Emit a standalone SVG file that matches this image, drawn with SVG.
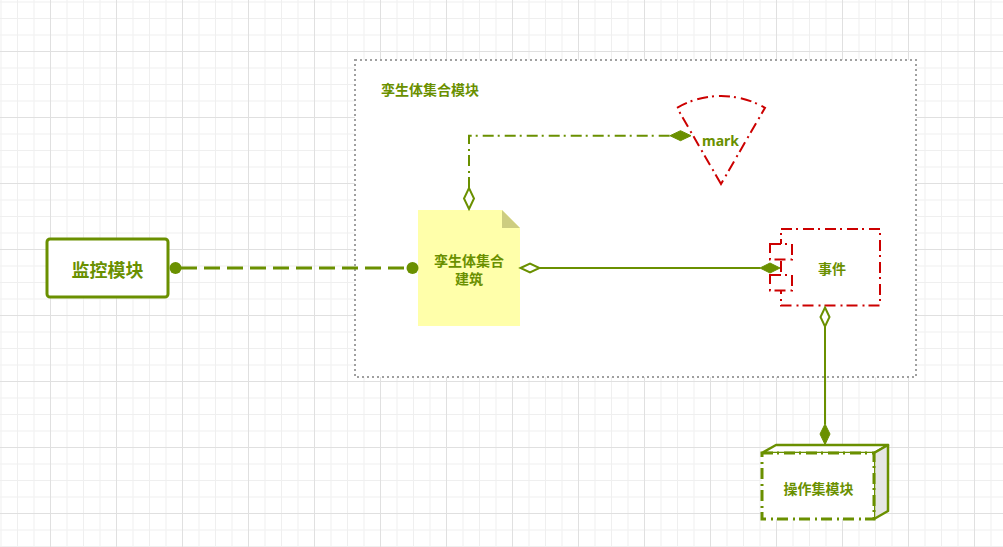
<svg xmlns="http://www.w3.org/2000/svg" width="1003" height="547" viewBox="0 0 1003 547">
<style>
.t{font-family:"Noto Sans CJK SC","Noto Sans",sans-serif;font-weight:bold;fill:#6a9000;text-anchor:middle;dominant-baseline:central}
.g{stroke:#6a9000;fill:none}
.red{stroke:#cc0000;stroke-width:2;stroke-dasharray:11 4 2 5;fill:#fff}
.fd{fill:#6a9000;stroke:#6a9000;stroke-width:1}
.od{fill:#fff;stroke:#6a9000;stroke-width:2}
</style>
<defs>
<pattern id="grid" patternUnits="userSpaceOnUse" x="-16" y="-15" width="66" height="66">
<rect x="16.5" y="0" width="1" height="66" fill="#efefef"/>
<rect x="33" y="0" width="1" height="66" fill="#efefef"/>
<rect x="49.5" y="0" width="1" height="66" fill="#efefef"/>
<rect x="0" y="16.5" width="66" height="1" fill="#efefef"/>
<rect x="0" y="33" width="66" height="1" fill="#efefef"/>
<rect x="0" y="49.5" width="66" height="1" fill="#efefef"/>
<rect x="0" y="0" width="1" height="66" fill="#e0e0e0"/>
<rect x="0" y="0" width="66" height="1" fill="#e0e0e0"/>
</pattern>
</defs>
<rect width="1003" height="547" fill="#fff"/>
<rect width="1003" height="547" fill="url(#grid)"/>

<g id="container">
<rect x="355" y="60" width="561" height="317" fill="#fff" stroke="#a0a0a0" stroke-width="2" stroke-dasharray="2 3"/>
<text class="t" x="430" y="89" font-size="14">孪生体集合模块</text>
</g>

<g id="monitor">
<rect x="47" y="239" width="121" height="58" rx="3" fill="#fff" stroke="#6a9000" stroke-width="3"/>
<text class="t" x="107.5" y="269" font-size="18">监控模块</text>
</g>

<g id="note">
<path d="M418,210 H502 L520,228 V326 H418 Z" fill="#ffffaa"/>
<path d="M502,210 L520,228 H502 Z" fill="#cdcd80"/>
<text class="t" x="469" y="260" font-size="14">孪生体集合</text>
<text class="t" x="469" y="278" font-size="14">建筑</text>
</g>

<g id="mark">
<path class="red" d="M721,184 L677,107.8 A88,88 0 0 1 765,107.8 Z"/>
<text x="720.5" y="146" font-size="14" font-family="'Noto Sans','Liberation Sans',sans-serif" font-weight="bold" fill="#6a9000" text-anchor="middle">mark</text>
</g>

<g id="event">
<rect class="red" x="781" y="229" width="99" height="76.5"/>
<rect class="red" x="770" y="244" width="22" height="15.5"/>
<rect class="red" x="770" y="275" width="22" height="15.5"/>
<text class="t" x="832" y="268" font-size="14">事件</text>
</g>

<g id="opset">
<path d="M762,453 L776,445 H888 L874,453 Z" fill="#fff" stroke="#6a9000" stroke-width="2.5" stroke-linejoin="round"/>
<path d="M874,453 L888,445 V511 L874,519 Z" fill="#e6e6e6" stroke="#6a9000" stroke-width="2.5" stroke-linejoin="round"/>
<rect x="762" y="453" width="112" height="66" fill="#fff" stroke="#6a9000" stroke-width="3" stroke-dasharray="11 4 2 5"/>
<text class="t" x="818.5" y="487.5" font-size="14">操作集模块</text>
</g>

<g id="connectors">
<path class="g" d="M181,268 H406" stroke-width="3" stroke-dasharray="16 7"/>
<circle cx="175.5" cy="268" r="6" fill="#6a9000"/>
<circle cx="412.5" cy="268" r="6" fill="#6a9000"/>

<path class="g" d="M469,188 V135.7 H670" stroke-width="2" stroke-dasharray="11 4 2 5"/>
<path class="od" d="M469,209 L474,198.5 L469,188 L464,198.5 Z"/>
<path class="fd" d="M670,135.7 L680.5,130.7 L691,135.7 L680.5,140.7 Z"/>

<path class="g" d="M540,268 H760" stroke-width="2"/>
<path class="od" d="M520.5,268 L530,263.5 L539.5,268 L530,272.5 Z"/>
<path class="fd" d="M760,268 L770,263 L780,268 L770,273 Z"/>

<path class="g" d="M825,327 V424" stroke-width="2"/>
<path class="od" d="M825,307.5 L829.5,317 L825,326.5 L820.5,317 Z"/>
<path class="fd" d="M825,424 L830,434 L825,444.5 L820,434 Z"/>
</g>
</svg>
